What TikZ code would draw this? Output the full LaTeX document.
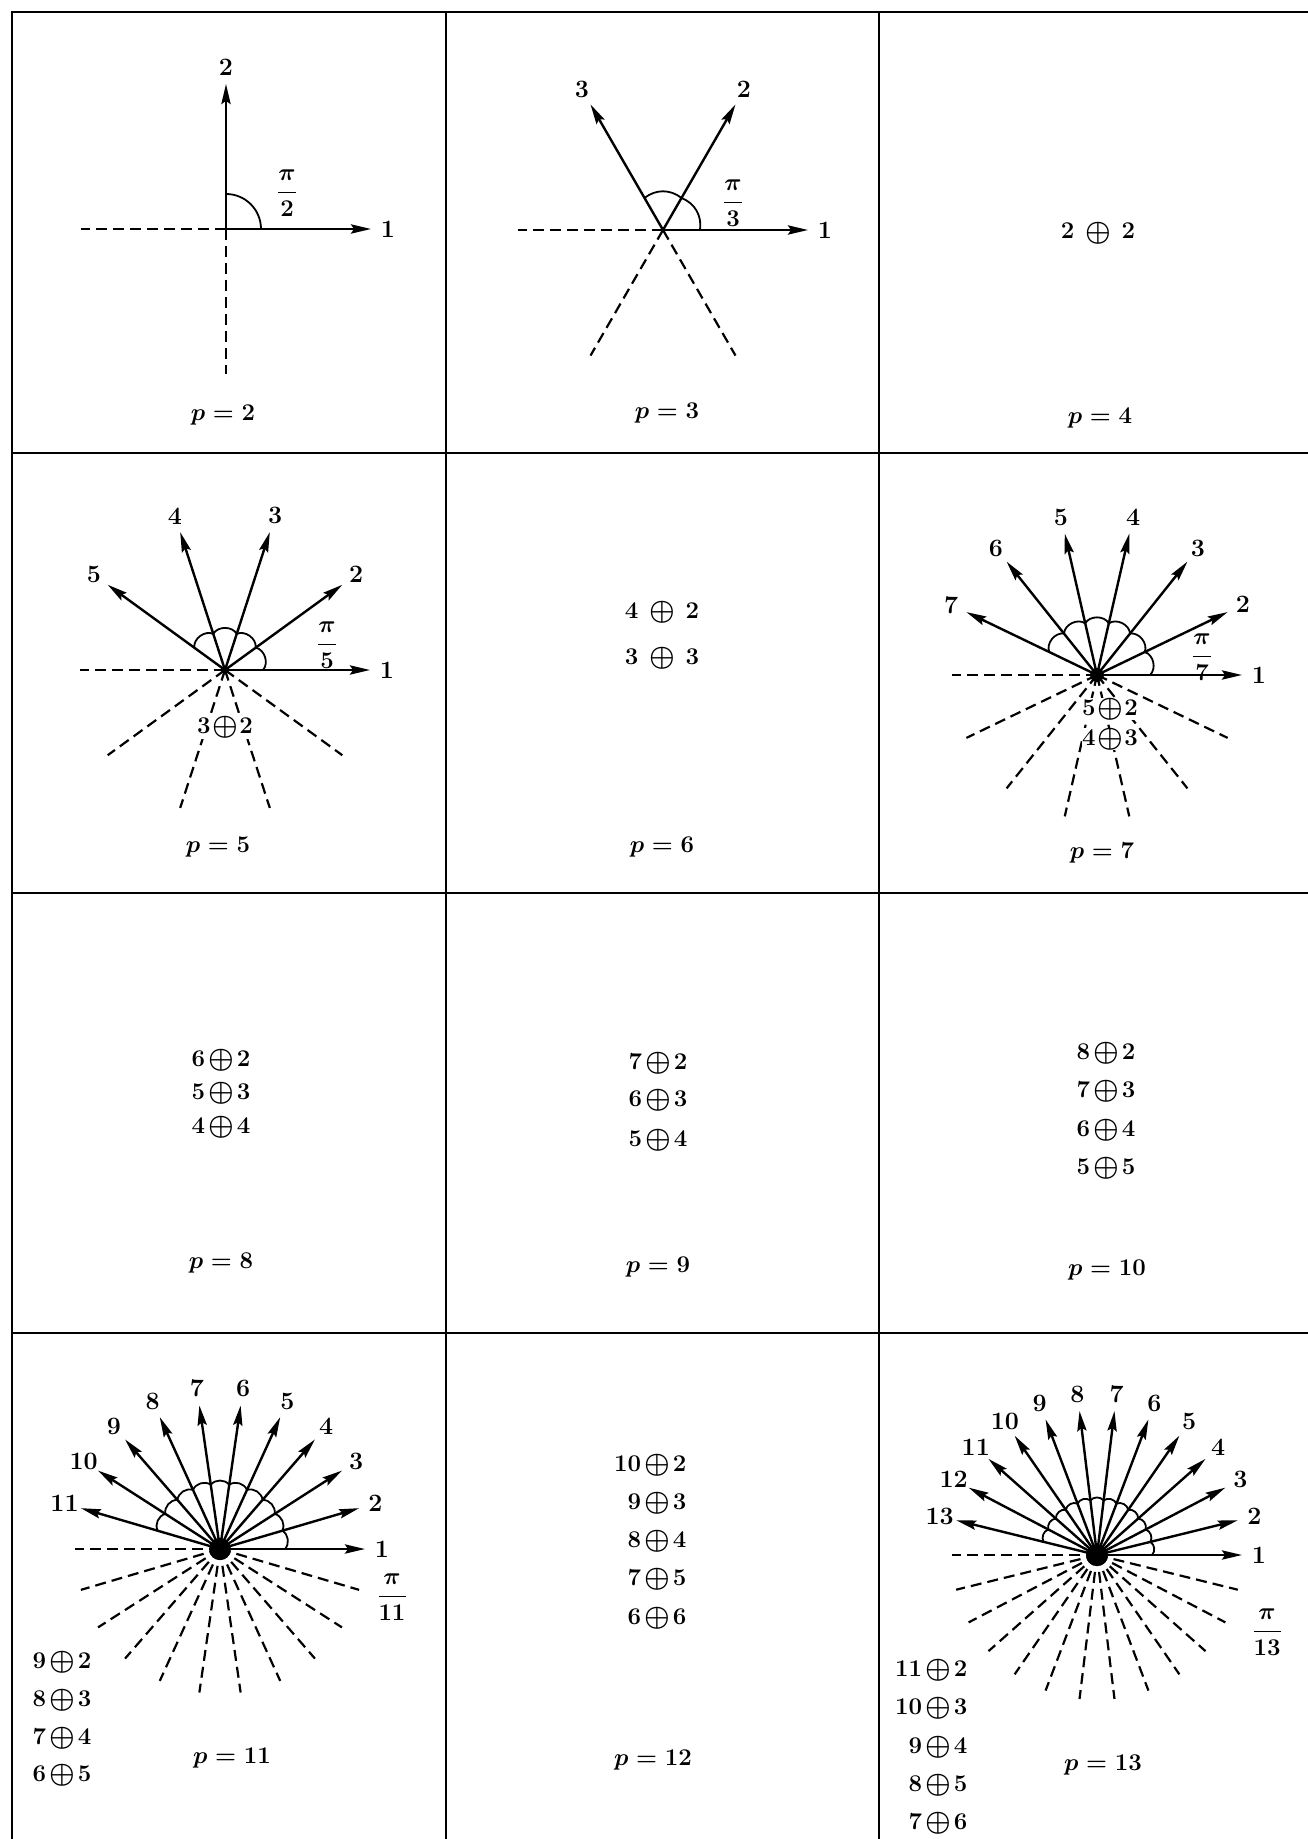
\documentclass[tikz,border=0pt]{standalone}
\usepackage{amsmath,amssymb}
\usepackage{tikz}
\usetikzlibrary{arrows.meta,calc}
\newcommand{\opl}{\mathbin{\vcenter{\hbox{\scalebox{1.2}{$\oplus$}}}}}
\newcommand{\osum}[2]{\llap{$#1\mkern2mu$}$\opl$\rlap{$\mkern2mu#2$}}

\begin{document}
\begin{tikzpicture}[
  x=0.5pt,y=0.5pt,
  font=\fontsize{12.5}{15}\selectfont\bfseries\boldmath,
  rule/.style={line width=1.4pt,line cap=rect},
  vec/.style={line width=1.2pt,-{Stealth[length=10pt,width=4.6pt,inset=1.5pt]}},
  back/.style={line width=1.1pt,dash pattern=on 5.5pt off 3pt},
  scallop/.style={line width=0.9pt},
  tag/.style={inner sep=1pt},
  pair/.style={inner sep=0.5pt},
]
\useasboundingbox (0,0) rectangle (1307,-1839);

% table rules
\draw[rule] (12,-1839) -- (12,-12) -- (1307,-12);
\draw[rule] (446,-12) -- (446,-1839);
\draw[rule] (879,-12) -- (879,-1839);
\draw[rule] (12,-453) -- (1307,-453);
\draw[rule] (12,-893) -- (1307,-893);
\draw[rule] (12,-1333) -- (1307,-1333);

% stars of vectors: p / centre / arc radius / bend / hub / fraction
\foreach \p/\cx/\cy/\rad/\bnd/\hub/\fx/\fy in {
    2/226/229/35/45/0/287/193,
    3/663/230/37/38/0/733/203,
    5/225/670/38/60/4/327/645,
    7/1097/675/53/60/7/1202/657,
    11/220/1549/65/50/11/392/1597,
    13/1097/1555/55/50/11/1267/1632}{
  \coordinate (o\p) at (\cx,-\cy);
  \foreach \k in {1,...,\p}{
    \pgfmathsetmacro\ang{(\k-1)*180/\p}
    \pgfmathsetmacro\angn{\ang+180}
    \coordinate (o\p-v\k) at ($(o\p)+(\ang:145)$);
    \coordinate (o\p-n\k) at ($(o\p)+(\angn:145)$);
    \draw[back] (o\p) -- (o\p-n\k);
    \draw[vec] (o\p) -- (o\p-v\k);
    \node[tag] (o\p-l\k) at ($(o\p)+(\ang:162)$) {\k};
  }
  \foreach \k in {2,...,\p}{
    \pgfmathsetmacro\angA{(\k-2)*180/\p}
    \pgfmathsetmacro\angB{(\k-1)*180/\p}
    \draw[scallop] ($(o\p)+(\angA:\rad)$) to[bend right=\bnd] ($(o\p)+(\angB:\rad)$);
  }
  \fill (o\p) circle (\hub);
  \node (f\p) at (\fx,-\fy) {$\dfrac{\pi}{\p}$};
}

% decompositions
\node (s4) at (1098,-233) {$2\,\opl\,2$};
\node[pair,fill=white] (s5) at (225,-727) {$3\!\opl\!2$};
\node (s6-1) at (662,-612) {$4\,\opl\,2$};
\node (s6-2) at (662,-658) {$3\,\opl\,3$};
\node[pair,inner sep=0pt,fill=white] (s7-1) at (1110,-709) {$5\!\opl\!2$};
\node[pair,inner sep=0pt,fill=white] (s7-2) at (1110,-739) {$4\!\opl\!3$};
\foreach \lhs/\rhs/\yy [count=\i] in {6/2/1060,5/3/1093,4/4/1127}
  \node[pair] (s8-\i) at (221,-\yy) {\osum{\lhs}{\rhs}};
\foreach \lhs/\rhs/\yy [count=\i] in {7/2/1063,6/3/1100,5/4/1140}
  \node[pair] (s9-\i) at (658,-\yy) {\osum{\lhs}{\rhs}};
\foreach \lhs/\rhs/\yy [count=\i] in {8/2/1053,7/3/1091,6/4/1130,5/5/1168}
  \node[pair] (s10-\i) at (1106,-\yy) {\osum{\lhs}{\rhs}};
\foreach \lhs/\rhs/\yy [count=\i] in {9/2/1662,8/3/1700,7/4/1738,6/5/1775}
  \node[pair] (s11-\i) at (62,-\yy) {\osum{\lhs}{\rhs}};
\foreach \lhs/\rhs/\yy [count=\i] in {10/2/1465,9/3/1503,8/4/1541,7/5/1579,6/6/1618}
  \node[pair] (s12-\i) at (657,-\yy) {\osum{\lhs}{\rhs}};
\foreach \lhs/\rhs/\yy [count=\i] in {11/2/1670,10/3/1708,9/4/1747,8/5/1785,7/6/1823}
  \node[pair] (s13-\i) at (938,-\yy) {\osum{\lhs}{\rhs}};

% cell captions
\node (p2)  at (223,-415)  {$p=2$};
\node (p3)  at (667,-413)  {$p=3$};
\node (p4)  at (1100,-418) {$p=4$};
\node (p5)  at (218,-847)  {$p=5$};
\node (p6)  at (662,-847)  {$p=6$};
\node (p7)  at (1102,-853) {$p=7$};
\node (p8)  at (221,-1263) {$p=8$};
\node (p9)  at (658,-1267) {$p=9$};
\node (p10) at (1107,-1270) {$p=10$};
\node (p11) at (232,-1758) {$p=11$};
\node (p12) at (653,-1760) {$p=12$};
\node (p13) at (1103,-1765) {$p=13$};
\end{tikzpicture}
\end{document}
